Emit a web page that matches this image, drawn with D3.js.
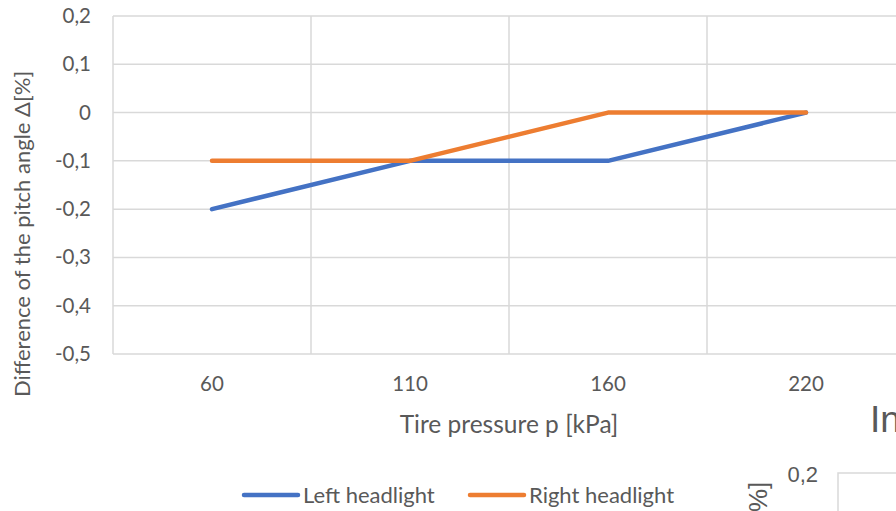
<!DOCTYPE html>
<html>
<head>
<meta charset="utf-8">
<script src="https://cdn.jsdelivr.net/npm/d3@7"></script>
<style>
  html, body { margin: 0; padding: 0; background: #fff; overflow: hidden; }
  svg { display: block; }
</style>
</head>
<body>
<svg id="chart" width="896" height="511"></svg>
<script>
// Tire pressure categories and pitch-angle differences per headlight
const pressures = ["60", "110", "160", "220"];
const leftHeadlight = [-0.2, -0.1, -0.1, 0];
const rightHeadlight = [-0.1, -0.1, 0, 0];
const yTicks = [0.2, 0.1, 0, -0.1, -0.2, -0.3, -0.4, -0.5];
const seriesNames = ["Left headlight", "Right headlight"];

const svg = d3.select("#chart");
const font = "Lato, 'Open Sans', sans-serif";
const textColor = "#595959";
const gridColor = "#d9d9d9";
const colors = ["#4472C4", "#ED7D31"];

const plot = { left: 113, right: 905, top: 16, bottom: 354 };

const x = d3.scaleBand().domain(pressures).range([plot.left, plot.right]);
const y = d3.scaleLinear().domain([-0.5, 0.2]).range([plot.bottom, plot.top]);

const fmt = v => (Math.abs(v) < 1e-9 ? "0" : d3.format(".1f")(v).replace(".", ",").replace("−", "-"));

// Horizontal gridlines
svg.append("g")
  .selectAll("line")
  .data(yTicks)
  .join("line")
  .attr("x1", plot.left).attr("x2", plot.right)
  .attr("y1", d => y(d)).attr("y2", d => y(d))
  .attr("stroke", gridColor).attr("stroke-width", 1.5);

// Vertical gridlines at category boundaries
const bounds = pressures.map(p => x(p)).concat([plot.right]);
svg.append("g")
  .selectAll("line")
  .data(bounds)
  .join("line")
  .attr("x1", d => d).attr("x2", d => d)
  .attr("y1", plot.top).attr("y2", plot.bottom)
  .attr("stroke", gridColor).attr("stroke-width", 1.5);

// Y axis labels
const yAxis = d3.axisLeft(y).tickValues(yTicks).tickFormat(fmt).tickSize(0).tickPadding(22);
const yg = svg.append("g").attr("transform", `translate(${plot.left},0)`).call(yAxis);
yg.select(".domain").remove();
yg.selectAll("text")
  .attr("fill", textColor)
  .style("font-family", font)
  .style("font-size", "20.5px");

// X axis labels
const xAxis = d3.axisBottom(x).tickSize(0).tickPadding(22);
const xg = svg.append("g").attr("transform", `translate(0,${plot.bottom})`).call(xAxis);
xg.select(".domain").remove();
xg.selectAll("text")
  .attr("fill", textColor)
  .style("font-family", font)
  .style("font-size", "20.5px");

// Axis titles
svg.append("text")
  .attr("x", 509).attr("y", 433)
  .attr("text-anchor", "middle")
  .attr("fill", textColor)
  .style("font-family", font).style("font-size", "24.5px")
  .text("Tire pressure p [kPa]");

svg.append("text")
  .attr("transform", "translate(30,234) rotate(-90)")
  .attr("text-anchor", "middle")
  .attr("fill", textColor)
  .style("font-family", font).style("font-size", "22px")
  .text("Difference of the pitch angle Δ[%]");

// Series lines
const line = d3.line()
  .x((d, i) => x(pressures[i]) + x.bandwidth() / 2)
  .y(d => y(d));

[leftHeadlight, rightHeadlight].forEach((vals, i) => {
  svg.append("path")
    .datum(vals)
    .attr("d", line)
    .attr("fill", "none")
    .attr("stroke", colors[i])
    .attr("stroke-width", 4.5)
    .attr("stroke-linecap", "round")
    .attr("stroke-linejoin", "round");
});

// Legend
const legendX = [244, 470];
seriesNames.forEach((name, i) => {
  const g = svg.append("g").attr("transform", `translate(${legendX[i]},495)`);
  g.append("line")
    .attr("x1", 0).attr("x2", 54)
    .attr("y1", 0).attr("y2", 0)
    .attr("stroke", colors[i]).attr("stroke-width", 4.5)
    .attr("stroke-linecap", "round");
  g.append("text")
    .attr("x", 59).attr("y", 8)
    .attr("fill", textColor)
    .style("font-family", font).style("font-size", "22px")
    .text(name);
});

// Neighbouring chart, partly visible at the lower right
const sideFont = "'Liberation Sans', Arial, sans-serif";
const side = svg.append("g");
side.append("text")
  .attr("x", 870).attr("y", 432)
  .attr("fill", textColor)
  .style("font-family", sideFont)
  .style("font-size", "37px")
  .text("In");
side.append("text")
  .attr("x", 818).attr("y", 482)
  .attr("text-anchor", "end")
  .attr("fill", textColor)
  .style("font-family", sideFont)
  .style("font-size", "22px")
  .text("0,2");
side.append("text")
  .attr("transform", "translate(767,512) rotate(-90)")
  .attr("fill", textColor)
  .style("font-family", sideFont)
  .style("font-size", "26px")
  .text("%]");
side.append("rect")
  .attr("x", 838).attr("y", 473)
  .attr("width", 80).attr("height", 60)
  .attr("fill", "none")
  .attr("stroke", gridColor).attr("stroke-width", 1.5);
</script>
</body>
</html>
